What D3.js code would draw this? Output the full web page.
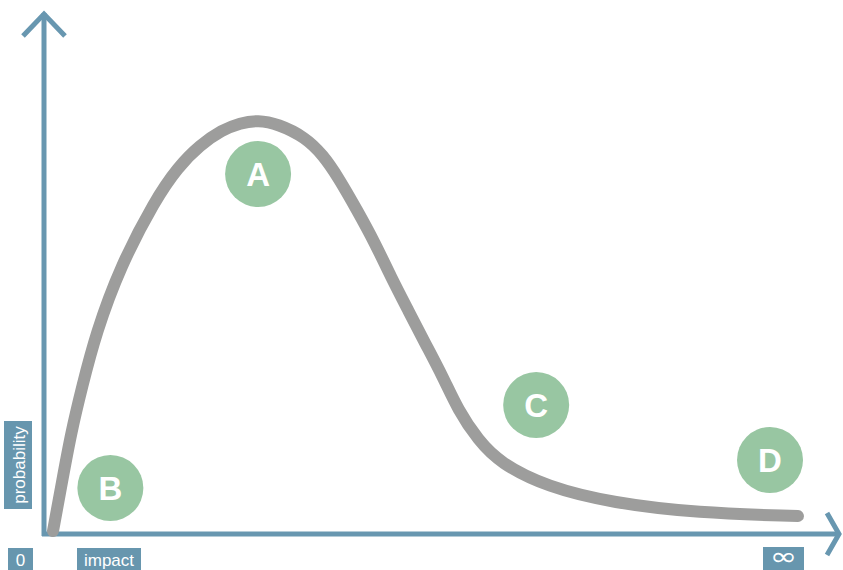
<!DOCTYPE html>
<html>
<head>
<meta charset="utf-8">
<script src="https://cdn.jsdelivr.net/npm/d3@7"></script>
<style>
  html, body { margin: 0; padding: 0; background: #fff; }
  svg { display: block; font-family: "Liberation Sans", Arial, Helvetica, sans-serif; }
</style>
</head>
<body>
<svg id="chart" width="843" height="570"></svg>
<script>
// Curve points (impact, probability) in abstract units 0–100
const curveImpact = [1.14, 2.28, 3.42, 4.81, 6.58, 9.62, 14.05, 16.96, 19.75, 22.53, 24.81, 27.09, 29.62, 33.04, 35.32, 37.22, 39.62, 41.90, 43.92, 46.08, 48.23, 50.51, 52.41, 54.94, 57.72, 63.67, 72.03, 82.66, 95.44];
const curveProb   = [0.6, 10.4, 20.2, 29.4, 40.2, 53.4, 66.8, 73.4, 77.8, 80.8, 82.2, 82.8, 82.0, 79.4, 75.8, 71.4, 64.8, 58.2, 51.4, 44.8, 38.2, 31.4, 24.8, 18.8, 14.2, 9.4, 6.2, 4.2, 3.6];

// Labelled markers
const markerLabels = ["A", "B", "C", "D"];
const markerImpact = [27.1, 8.4, 62.3, 91.9];
const markerProb   = [72.0, 9.2, 25.8, 14.8];

// Axis labels
const yAxisLabel = "probability";
const xAxisLabel = "impact";
const originLabel = "0";
const endLabel = "\u221E";

const svg = d3.select("#chart");
const axisColor = "#6897b0";
const boxColor = "#6796ae";

const x = d3.scaleLinear().domain([0, 100]).range([44, 834]);
const y = d3.scaleLinear().domain([0, 100]).range([534, 34]);

// Axes
const axes = svg.append("g")
  .attr("fill", "none")
  .attr("stroke", axisColor)
  .attr("stroke-width", 5);
axes.append("line").attr("x1", x(0)).attr("x2", x(0)).attr("y1", 536).attr("y2", 13);
axes.append("line").attr("x1", 42).attr("x2", 839).attr("y1", y(0)).attr("y2", y(0));
// arrowheads
axes.append("path").attr("d", `M${x(0) - 21},36 L${x(0)},14 L${x(0) + 21},36`)
  .attr("stroke-linejoin", "miter");
axes.append("path").attr("d", `M827,${y(0) - 21} L839,${y(0)} L827,${y(0) + 21}`)
  .attr("stroke-linejoin", "miter");

// Curve
const pts = curveImpact.map((v, i) => [v, curveProb[i]]);
const line = d3.line()
  .x(d => x(d[0]))
  .y(d => y(d[1]))
  .curve(d3.curveBasis);
svg.append("path")
  .datum(pts)
  .attr("d", line)
  .attr("fill", "none")
  .attr("stroke", "#9d9d9c")
  .attr("stroke-width", 12)
  .attr("stroke-linecap", "round")
  .attr("stroke-linejoin", "round");

// Markers
const markers = svg.append("g").selectAll("g")
  .data(markerLabels.map((l, i) => ({ l, xv: markerImpact[i], yv: markerProb[i] })))
  .join("g")
  .attr("transform", d => `translate(${x(d.xv)},${y(d.yv)})`);
markers.append("circle").attr("r", 33).attr("fill", "#98c6a2");
markers.append("text")
  .attr("text-anchor", "middle")
  .attr("dy", "0.36em")
  .attr("fill", "#fff")
  .attr("font-weight", "bold")
  .attr("font-size", 33)
  .text(d => d.l);

// Label boxes
function box(x0, y0, w, h) {
  svg.append("rect").attr("x", x0).attr("y", y0).attr("width", w).attr("height", h).attr("fill", boxColor);
}
box(4, 421, 28, 88);
svg.append("text")
  .attr("transform", `translate(25,465) rotate(-90)`)
  .attr("text-anchor", "middle")
  .attr("fill", "#fff")
  .attr("font-size", 17)
  .text(yAxisLabel);

box(8, 548, 25, 22);
svg.append("text").attr("x", 20.5).attr("y", 566).attr("text-anchor", "middle")
  .attr("fill", "#fff").attr("font-size", 17).text(originLabel);

box(77, 548, 64, 22);
svg.append("text").attr("x", 109).attr("y", 566).attr("text-anchor", "middle")
  .attr("fill", "#fff").attr("font-size", 17).text(xAxisLabel);

box(763, 547, 41, 23);
svg.append("text")
  .attr("transform", "translate(783.5,565) scale(1.5,1.15)")
  .attr("text-anchor", "middle")
  .attr("fill", "#fff").attr("font-size", 22)
  .attr("font-family", "DejaVu Sans, sans-serif").text(endLabel);
</script>
</body>
</html>
